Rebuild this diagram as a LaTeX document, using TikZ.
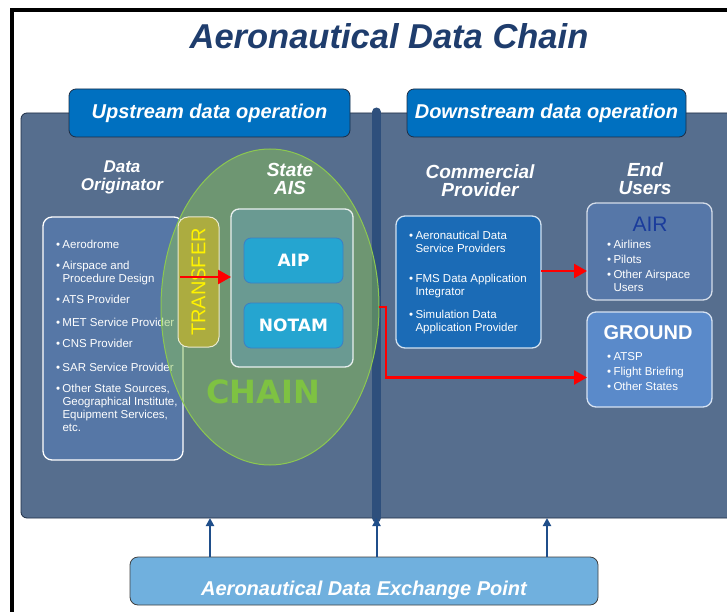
\documentclass[tikz,border=0pt]{standalone}
\usepackage{fontspec}
\setmainfont{Liberation Sans}
\newfontfamily\roundfont{DejaVu Sans}
\usetikzlibrary{arrows.meta}
\usetikzlibrary{shapes.geometric}
\definecolor{frame_dark}{RGB}{30, 46, 69}
\definecolor{panel_slate}{RGB}{86, 110, 142}
\definecolor{divider_navy}{RGB}{46, 79, 124}
\definecolor{head_blue}{RGB}{0, 112, 192}
\definecolor{origin_blue}{RGB}{86, 119, 166}
\definecolor{chain_green}{RGB}{140, 200, 80}
\definecolor{transfer_olive}{RGB}{172, 172, 64}
\definecolor{ais_teal}{RGB}{106, 154, 146}
\definecolor{aip_cyan}{RGB}{37, 165, 208}
\definecolor{aip_edge}{RGB}{60, 127, 196}
\definecolor{chain_text}{RGB}{126, 194, 66}
\definecolor{comm_blue}{RGB}{27, 107, 182}
\definecolor{air_slate}{RGB}{86, 119, 168}
\definecolor{ground_blue}{RGB}{90, 138, 202}
\definecolor{air_navy}{RGB}{26, 60, 156}
\definecolor{xchg_sky}{RGB}{112, 176, 222}
\definecolor{feed_blue}{RGB}{31, 78, 138}
\definecolor{title_navy}{RGB}{31, 61, 109}
\newcommand{\itm}[1]{\makebox[6.5pt][l]{\textbullet}#1}
\newcommand{\cnt}[1]{\hspace*{6.5pt}#1}

\begin{document}
\begin{tikzpicture}[x=1pt, y=-1pt,
  every node/.style={inner sep=0pt, outer sep=0pt},
  card/.style={draw=white, line width=1.3pt, rounded corners=9pt, anchor=north west},
  headbox/.style={fill=head_blue, draw=frame_dark, line width=0.8pt, rounded corners=7pt, anchor=north west,
    minimum width=281pt, minimum height=48pt, text=white, font=\bfseries\itshape\fontsize{20}{24}\selectfont},
  heading/.style={text=white, align=center, font=\bfseries\itshape\fontsize{19}{18}\selectfont},
  bullets/.style={text=white, align=left, anchor=north west, font=\fontsize{11.5}{13}\selectfont},
  inner/.style={fill=aip_cyan, draw=aip_edge, line width=0.8pt, rounded corners=7pt, anchor=north west,
    minimum width=99pt, minimum height=45pt, text=white, font=\roundfont\bfseries\fontsize{17}{20}\selectfont},
  redarrow/.style={draw=red, line width=2.5pt, -{Triangle[length=13pt, width=14pt]}},
  feed/.style={draw=feed_blue, line width=2pt, -{Triangle[length=8pt, width=8pt]}}]
\useasboundingbox (0,0) rectangle (727,612);
\clip (0,0) rectangle (727,612);
\fill[white] (0,0) rectangle (727,612);
\draw[line width=4pt] (12,612) -- (12,10) -- (740,10);

\node[text=title_navy, font=\bfseries\itshape\fontsize{34.5}{36}\selectfont] (title) at (389,36) {Aeronautical Data Chain};

\node[fill=panel_slate, draw=frame_dark, line width=0.8pt, rounded corners=6pt, anchor=north west,
  minimum width=730pt, minimum height=405pt] (panel) at (21,113) {};
\draw[divider_navy, line width=9pt, line cap=round] (376.5,112) coordinate (divtop) -- (376.5,518) coordinate (divider);

\node[headbox] (up) at (69,89) {Upstream data operation};
\node[headbox, minimum width=279pt] (down) at (407,89) {Downstream data operation};

\node[card, fill=origin_blue, minimum width=140pt, minimum height=243pt] (origin) at (43,217) {};
\node[bullets] (originlist) at (56,240) {\itm{Aerodrome}\\[8pt]
  \itm{Airspace and}\\ \cnt{Procedure Design}\\[8pt]
  \itm{ATS Provider}\\[10pt]
  \itm{MET Service Provider}\\[8pt]
  \itm{CNS Provider}\\[11pt]
  \itm{SAR Service Provider}\\[8pt]
  \itm{Other State Sources,}\\ \cnt{Geographical Institute,}\\ \cnt{Equipment Services,}\\ \cnt{etc.}};
\node[heading, font=\bfseries\itshape\fontsize{17}{18}\selectfont] (originhead) at (122,177) {Data\\Originator};

\node[ellipse, fill=chain_green, fill opacity=0.45, draw=chain_green, line width=1pt,
  minimum width=218pt, minimum height=316pt] (oval) at (270,307) {};
\node[rotate=90, fill=transfer_olive, draw=white!75!transfer_olive, line width=1pt, rounded corners=10pt,
  minimum width=130pt, minimum height=41pt, text=yellow, font=\fontsize{20}{24}\selectfont] (xfer) at (198.5,282) {TRANSFER};
\node[card, draw=white!85!ais_teal, fill=ais_teal, rounded corners=8pt, minimum width=122pt, minimum height=158pt] (ais) at (231,209) {};
\node[inner] (aip) at (244,238) {AIP};
\node[inner] (notam) at (244,303) {NOTAM};
\node[text=chain_text, font=\roundfont\bfseries\fontsize{32}{36}\selectfont] (chain) at (263,392) {CHAIN};
\node[heading] (aishead) at (290,179) {State\\AIS};

\node[card, fill=comm_blue, draw=white!80!comm_blue, minimum width=145pt, minimum height=132pt] (comm) at (396,216) {};
\node[bullets] (commlist) at (409,231) {\itm{Aeronautical Data}\\ \cnt{Service Providers}\\[17pt]
  \itm{FMS Data Application}\\ \cnt{Integrator}\\[10pt]
  \itm{Simulation Data}\\ \cnt{Application Provider}};
\node[heading] (commhead) at (480,181) {Commercial\\Provider};

\node[card, fill=air_slate, draw=white!75!air_slate, minimum width=125pt, minimum height=97pt] (air) at (587,203) {};
\node[text=air_navy, font=\fontsize{21}{24}\selectfont] (airlabel) at (650,224) {AIR};
\node[bullets] (airlist) at (607,240) {\itm{Airlines}\\[2pt] \itm{Pilots}\\[2pt] \itm{Other Airspace}\\ \cnt{Users}};
\node[card, fill=ground_blue, draw=white!75!ground_blue, minimum width=125pt, minimum height=95pt] (ground) at (587,312) {};
\node[text=white, font=\bfseries\fontsize{20}{24}\selectfont] (groundlabel) at (648,333) {GROUND};
\node[bullets] (groundlist) at (607,352) {\itm{ATSP}\\[2pt] \itm{Flight Briefing}\\[2pt] \itm{Other States}};
\node[heading] (endhead) at (645,179) {End\\Users};

\coordinate (xferin) at (180,277);
\draw[redarrow] (xferin) -- (xferin -| ais.west);
\coordinate (commout) at (541,271);
\draw[redarrow] (commout) -- (commout -| air.west);
\draw[redarrow] (oval.east) -- ++(7,0) |- ([yshift=-18pt]ground.west);

\node[fill=xchg_sky, draw=black!75, line width=0.8pt, rounded corners=8pt, anchor=north west,
  minimum width=468pt, minimum height=48pt, text=white, font=\bfseries\itshape\fontsize{20}{24}\selectfont] (xchg) at (130,557) {\raisebox{-14pt}[0pt][0pt]{Aeronautical Data Exchange Point}};
\coordinate (feedl) at (210,557);
\coordinate (feedm) at (divider |- xchg.north);
\coordinate (feedr) at (547,557);
\draw[feed] (feedl) -- (feedl |- panel.south);
\draw[feed] (feedm) -- (divider);
\draw[feed] (feedr) -- (feedr |- panel.south);
\end{tikzpicture}
\end{document}
